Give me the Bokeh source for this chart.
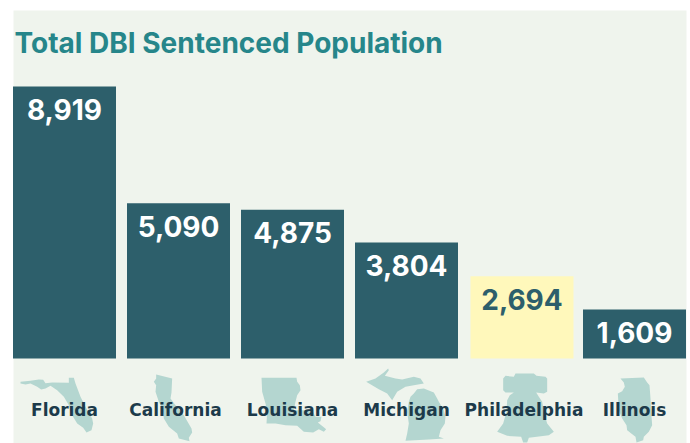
from bokeh.plotting import figure
from bokeh.models import Range1d, ColumnDataSource
from bokeh.core.properties import value
from bokeh.embed import file_html
from bokeh.resources import INLINE

title = "Total DBI Sentenced Population"
places = ["Florida", "California", "Louisiana", "Michigan", "Philadelphia", "Illinois"]
counts = [8919, 5090, 4875, 3804, 2694, 1609]
highlight = "Philadelphia"

BG, BAR, HI, ICON, LABEL, TITLE = "#eff4ed", "#2d5f6b", "#fff8bb", "#b4d6d0", "#1c3a4a", "#26868a"

# outlines of the decorative silhouettes: origin of the tracing (page px) and points at 3x
icons = [
 (10, [[(30,40),(60,37),(85,33),(98,34),(105,44),(125,42),(175,43),(175,28),(190,28),(195,45),(210,85),(225,115),(245,150),(248,165),(243,185),(228,192),(218,178),(200,165),(185,140),(175,110),(160,85),(140,65),(120,52),(105,60),(92,63),(80,55),(60,45),(45,48),(30,45)]]),
 (125, [[(92,18),(140,30),(138,72),(135,90),(150,110),(175,140),(198,180),(200,192),(190,208),(192,218),(160,210),(155,195),(130,175),(115,150),(112,125),(100,100),(90,70),(92,50),(85,40),(92,30)]]),
 (240, [[(63,28),(168,28),(170,40),(178,50),(180,65),(170,80),(165,100),(160,125),(215,125),(225,145),(243,145),(240,158),(232,162),(248,175),(257,182),(250,190),(235,182),(218,192),(190,190),(170,172),(135,170),(105,165),(78,165),(80,130),(75,105),(65,70)]]),
 (355, [[(32,40),(60,30),(85,12),(98,0),(100,5),(88,22),(120,30),(140,33),(175,25),(195,30),(205,45),(175,50),(150,55),(125,70),(110,95),(95,75),(70,62)],
        [(185,62),(205,60),(235,72),(245,90),(250,100),(265,125),(270,145),(268,165),(255,185),(250,205),(265,210),(220,213),(150,217),(155,195),(160,165),(155,130),(160,100),(165,85),(175,75)]]),
 (470, [[(98,30),(105,22),(130,25),(135,15),(190,15),(198,22),(225,25),(230,30),(230,70),(220,75),(197,72),(205,85),(215,100),(220,130),(230,165),(250,190),(235,200),(175,208),(170,222),(158,222),(152,205),(110,202),(80,190),(98,165),(108,130),(110,95),(118,80),(130,72),(105,72),(98,65)]]),
 (580, [[(120,30),(190,27),(200,42),(207,50),(210,90),(212,130),(215,170),(205,190),(190,205),(188,215),(168,222),(165,205),(140,185),(138,170),(125,150),(115,125),(112,75),(125,68),(133,55),(130,42)]]),
]

W, H, ORG = 690, 443, 0
PITCH, X0, BASE, TOP = 114.0, 64.0, 358.0, 86.0
ppu = (BASE - TOP) / max(counts)

p = figure(width=W, height=H, output_backend="svg", toolbar_location=None, min_border=0,
           x_range=Range1d((ORG - X0) / PITCH, (ORG + W - X0) / PITCH),
           y_range=Range1d((BASE - ORG - H) / ppu, (BASE - ORG) / ppu))
p.axis.visible = False
p.grid.visible = False
p.outline_line_color = None
p.background_fill_color = "white"
p.border_fill_color = "white"
p.extra_x_ranges = {"px": Range1d(ORG, ORG + W)}
p.extra_y_ranges = {"px": Range1d(ORG + H, ORG)}

p.quad(left=[13], right=[686], top=[10], bottom=[443], fill_color=BG, line_color=None,
       x_range_name="px", y_range_name="px")

slots = [i + (0.013 if n == highlight else 0) for i, n in enumerate(places)]
src = ColumnDataSource(dict(
    x=slots, name=places, v=counts, t=[f"{c:,}" for c in counts],
    fill=[HI if n == highlight else BAR for n in places],
    ink=[BAR if n == highlight else "white" for n in places],
    ly=[409] * len(places),
    dx=[0, -3, 0, 0, 2, 0]))
p.vbar(x="x", top="v", bottom=0, width=103 / PITCH, fill_color="fill", line_color=None, source=src)

xs, ys = [], []
for x0, parts in icons:
    for part in parts:
        xs.append([x0 + a / 3 for a, b in part])
        ys.append([368 + b / 3 for a, b in part])
p.patches(xs, ys, fill_color=ICON, line_color=None, x_range_name="px", y_range_name="px")

p.text(x="x", y="v", text="t", y_offset=23, text_color="ink", text_font=value("Inter"), text_font_style="bold",
       text_font_size="28px", text_align="center", text_baseline="middle", source=src)
p.text(x="x", y="ly", text="name", x_offset="dx", text_color=LABEL, text_font=value("DejaVu Sans"), text_font_style="bold",
       text_font_size="17px", text_align="center", text_baseline="middle", y_range_name="px", source=src)
p.text(x=[14], y=[42], text=[title], text_color=TITLE, text_font=value("Inter"), text_font_style="bold",
       text_font_size="28px", text_align="left", text_baseline="middle", x_range_name="px", y_range_name="px")

open("out.html", "w").write(file_html(p, INLINE))
